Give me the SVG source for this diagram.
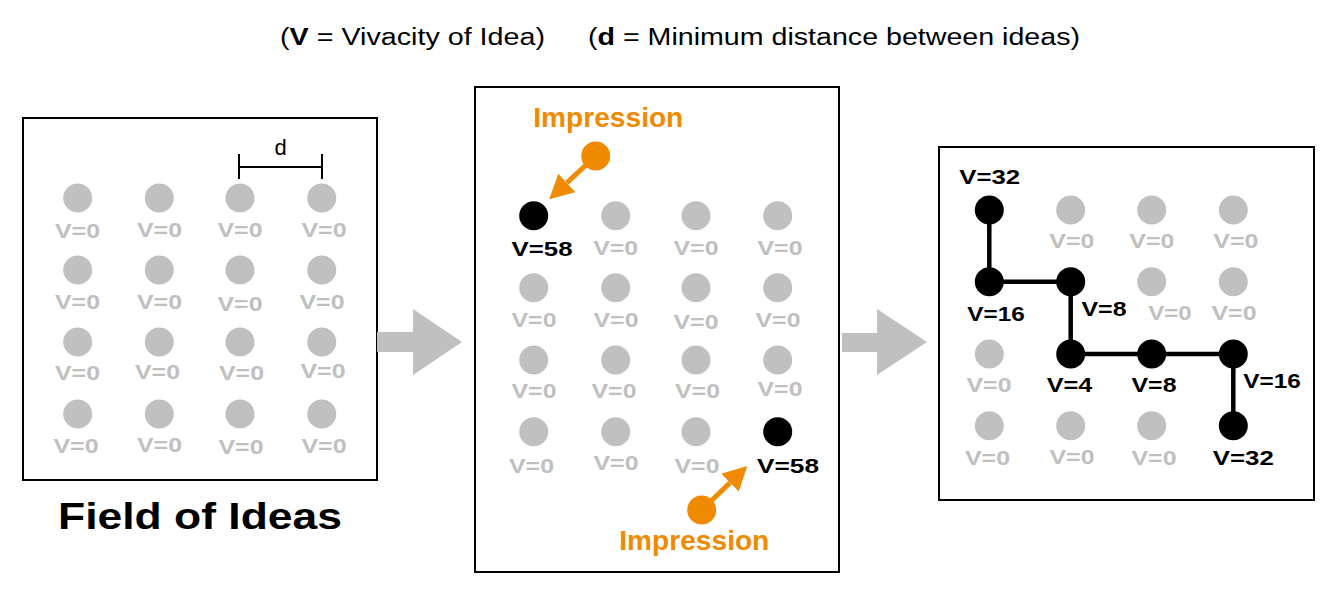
<svg xmlns="http://www.w3.org/2000/svg" width="1334" height="590" viewBox="0 0 1334 590">
<style>
.box{fill:#fff;stroke:#000;stroke-width:2}
.g{fill:#c0c0c0}
.k{fill:#000}
.o{fill:#f08a00}
.t{font-family:"Liberation Sans",Arial,sans-serif;font-weight:bold;font-size:21px;text-anchor:middle}
.tg{fill:#c0c0c0}
.tk{fill:#000}
.imp{font-family:"Liberation Sans",Arial,sans-serif;font-weight:bold;font-size:27px;fill:#f08a00;text-anchor:middle}
.title{font-family:"Liberation Sans",Arial,sans-serif;font-size:23px;fill:#000}
.path{fill:none;stroke:#000;stroke-width:4.5;stroke-linejoin:miter}
.oline{stroke:#f08a00;stroke-width:5;fill:none}
</style>
<defs>
<marker id="oh" viewBox="0 0 24 25" refX="0" refY="12.5" markerWidth="24" markerHeight="25" markerUnits="userSpaceOnUse" orient="auto">
<path d="M0,0 L24,12.5 L0,25 z" fill="#f08a00"/>
</marker>
</defs>
<rect width="1334" height="590" fill="#fff"/>

<g id="title">
<text class="title" x="280" y="45" textLength="265" lengthAdjust="spacingAndGlyphs">(<tspan font-weight="bold">V</tspan> = Vivacity of Idea)</text>
<text class="title" x="588" y="45" textLength="492" lengthAdjust="spacingAndGlyphs">(<tspan font-weight="bold">d</tspan> = Minimum distance between ideas)</text>
</g>

<!-- Panel 1 -->
<g id="panel1">
<rect class="box" x="23" y="118" width="354" height="362"/>
<g id="dmeasure" stroke="#000" stroke-width="2">
<line x1="239" y1="167" x2="322" y2="167"/>
<line x1="239" y1="154" x2="239" y2="179"/>
<line x1="322" y1="154" x2="322" y2="179"/>
</g>
<text x="280.5" y="155" font-family="Liberation Sans,Arial,sans-serif" font-size="22" text-anchor="middle">d</text>
<g id="p1n11"><circle class="g" cx="77.7" cy="198" r="14.5"/><text class="t tg" x="77.5" y="238" textLength="45" lengthAdjust="spacingAndGlyphs">V=0</text></g>
<g id="p1n12"><circle class="g" cx="159.3" cy="198" r="14.5"/><text class="t tg" x="159.5" y="237" textLength="45" lengthAdjust="spacingAndGlyphs">V=0</text></g>
<g id="p1n13"><circle class="g" cx="240" cy="198" r="14.5"/><text class="t tg" x="240" y="237" textLength="45" lengthAdjust="spacingAndGlyphs">V=0</text></g>
<g id="p1n14"><circle class="g" cx="321.7" cy="198" r="14.5"/><text class="t tg" x="324" y="237" textLength="45" lengthAdjust="spacingAndGlyphs">V=0</text></g>
<g id="p1n21"><circle class="g" cx="77.7" cy="270" r="14.5"/><text class="t tg" x="77.5" y="309" textLength="45" lengthAdjust="spacingAndGlyphs">V=0</text></g>
<g id="p1n22"><circle class="g" cx="159.3" cy="270" r="14.5"/><text class="t tg" x="159.5" y="309" textLength="45" lengthAdjust="spacingAndGlyphs">V=0</text></g>
<g id="p1n23"><circle class="g" cx="240" cy="270" r="14.5"/><text class="t tg" x="240" y="311" textLength="45" lengthAdjust="spacingAndGlyphs">V=0</text></g>
<g id="p1n24"><circle class="g" cx="321.7" cy="270" r="14.5"/><text class="t tg" x="322" y="309" textLength="45" lengthAdjust="spacingAndGlyphs">V=0</text></g>
<g id="p1n31"><circle class="g" cx="77.7" cy="342" r="14.5"/><text class="t tg" x="77.5" y="380" textLength="45" lengthAdjust="spacingAndGlyphs">V=0</text></g>
<g id="p1n32"><circle class="g" cx="159.3" cy="342" r="14.5"/><text class="t tg" x="157.5" y="379" textLength="45" lengthAdjust="spacingAndGlyphs">V=0</text></g>
<g id="p1n33"><circle class="g" cx="240" cy="342" r="14.5"/><text class="t tg" x="241.5" y="380" textLength="45" lengthAdjust="spacingAndGlyphs">V=0</text></g>
<g id="p1n34"><circle class="g" cx="321.7" cy="342" r="14.5"/><text class="t tg" x="323" y="378" textLength="45" lengthAdjust="spacingAndGlyphs">V=0</text></g>
<g id="p1n41"><circle class="g" cx="77.7" cy="414" r="14.5"/><text class="t tg" x="76" y="453" textLength="45" lengthAdjust="spacingAndGlyphs">V=0</text></g>
<g id="p1n42"><circle class="g" cx="159.3" cy="414" r="14.5"/><text class="t tg" x="159.5" y="452" textLength="45" lengthAdjust="spacingAndGlyphs">V=0</text></g>
<g id="p1n43"><circle class="g" cx="240" cy="414" r="14.5"/><text class="t tg" x="241" y="454" textLength="45" lengthAdjust="spacingAndGlyphs">V=0</text></g>
<g id="p1n44"><circle class="g" cx="321.7" cy="414" r="14.5"/><text class="t tg" x="324" y="453" textLength="45" lengthAdjust="spacingAndGlyphs">V=0</text></g>
<text x="58" y="529" font-family="Liberation Sans,Arial,sans-serif" font-weight="bold" font-size="36" textLength="284" lengthAdjust="spacingAndGlyphs">Field of Ideas</text>
</g>

<!-- Panel 2 -->
<g id="panel2">
<rect class="box" x="475" y="87" width="364" height="485"/>
<g id="p2n11"><circle class="k" cx="533.7" cy="215.7" r="14.5"/><text class="t tk" x="542" y="256" textLength="61" lengthAdjust="spacingAndGlyphs">V=58</text></g>
<g id="p2n12"><circle class="g" cx="615.7" cy="215.7" r="14.5"/><text class="t tg" x="615.7" y="255" textLength="45" lengthAdjust="spacingAndGlyphs">V=0</text></g>
<g id="p2n13"><circle class="g" cx="696" cy="215.7" r="14.5"/><text class="t tg" x="696" y="255" textLength="45" lengthAdjust="spacingAndGlyphs">V=0</text></g>
<g id="p2n14"><circle class="g" cx="777.7" cy="215.7" r="14.5"/><text class="t tg" x="780" y="255" textLength="45" lengthAdjust="spacingAndGlyphs">V=0</text></g>
<g id="p2n21"><circle class="g" cx="533.7" cy="287.7" r="14.5"/><text class="t tg" x="534" y="327" textLength="45" lengthAdjust="spacingAndGlyphs">V=0</text></g>
<g id="p2n22"><circle class="g" cx="615.7" cy="287.7" r="14.5"/><text class="t tg" x="616" y="327" textLength="45" lengthAdjust="spacingAndGlyphs">V=0</text></g>
<g id="p2n23"><circle class="g" cx="696" cy="287.7" r="14.5"/><text class="t tg" x="696" y="328.5" textLength="45" lengthAdjust="spacingAndGlyphs">V=0</text></g>
<g id="p2n24"><circle class="g" cx="777.7" cy="287.7" r="14.5"/><text class="t tg" x="778" y="327" textLength="45" lengthAdjust="spacingAndGlyphs">V=0</text></g>
<g id="p2n31"><circle class="g" cx="533.7" cy="360" r="14.5"/><text class="t tg" x="534" y="398" textLength="45" lengthAdjust="spacingAndGlyphs">V=0</text></g>
<g id="p2n32"><circle class="g" cx="615.7" cy="360" r="14.5"/><text class="t tg" x="614" y="398" textLength="45" lengthAdjust="spacingAndGlyphs">V=0</text></g>
<g id="p2n33"><circle class="g" cx="696" cy="360" r="14.5"/><text class="t tg" x="697.5" y="398" textLength="45" lengthAdjust="spacingAndGlyphs">V=0</text></g>
<g id="p2n34"><circle class="g" cx="777.7" cy="360" r="14.5"/><text class="t tg" x="780" y="396" textLength="45" lengthAdjust="spacingAndGlyphs">V=0</text></g>
<g id="p2n41"><circle class="g" cx="533.7" cy="431.7" r="14.5"/><text class="t tg" x="531.5" y="473" textLength="45" lengthAdjust="spacingAndGlyphs">V=0</text></g>
<g id="p2n42"><circle class="g" cx="615.7" cy="431.7" r="14.5"/><text class="t tg" x="616" y="470" textLength="45" lengthAdjust="spacingAndGlyphs">V=0</text></g>
<g id="p2n43"><circle class="g" cx="696" cy="431.7" r="14.5"/><text class="t tg" x="697" y="473" textLength="45" lengthAdjust="spacingAndGlyphs">V=0</text></g>
<g id="p2n44"><circle class="k" cx="777.7" cy="431.7" r="14.5"/><text class="t tk" x="788" y="473" textLength="62" lengthAdjust="spacingAndGlyphs">V=58</text></g>
<g id="impression1"><circle class="o" cx="595.7" cy="156" r="14.5"/><text class="imp" x="608.3" y="126.5" textLength="150" lengthAdjust="spacingAndGlyphs">Impression</text></g>
<g id="impression2"><circle class="o" cx="701.7" cy="510" r="14.5"/><text class="imp" x="694.3" y="550" textLength="150" lengthAdjust="spacingAndGlyphs">Impression</text></g>
</g>

<!-- Panel 3 -->
<g id="panel3">
<rect class="box" x="939" y="147" width="375" height="353"/>
</g>

<g id="connectors">
<polygon class="g" points="377,332 413,332 413,309 462,342 413,375 413,352 377,352"/>
<polygon class="g" points="842,333 877,333 877,309 927,342 877,375 877,352 842,352"/>
<line class="oline" x1="595.7" y1="156" x2="566.8" y2="182.9" marker-end="url(#oh)"/>
<line class="oline" x1="701.7" y1="510" x2="730" y2="482.7" marker-end="url(#oh)"/>
<polyline class="path" points="989.3,210 989.3,281.7 1070.7,281.7 1070.7,354 1233.3,354 1233.3,425.7"/>
</g>

<g id="panel3-nodes">
<g id="p3n11"><circle class="k" cx="989.3" cy="210" r="14.5"/><text class="t tk" x="989.7" y="184.3" textLength="61" lengthAdjust="spacingAndGlyphs">V=32</text></g>
<g id="p3n12"><circle class="g" cx="1070.7" cy="210" r="14.5"/><text class="t tg" x="1071.8" y="248" textLength="45" lengthAdjust="spacingAndGlyphs">V=0</text></g>
<g id="p3n13"><circle class="g" cx="1151.7" cy="210" r="14.5"/><text class="t tg" x="1151.8" y="248" textLength="45" lengthAdjust="spacingAndGlyphs">V=0</text></g>
<g id="p3n14"><circle class="g" cx="1233.3" cy="210" r="14.5"/><text class="t tg" x="1235.8" y="248" textLength="45" lengthAdjust="spacingAndGlyphs">V=0</text></g>
<g id="p3n21"><circle class="k" cx="989.3" cy="281.7" r="14.5"/><text class="t tk" x="996" y="321" textLength="57.5" lengthAdjust="spacingAndGlyphs">V=16</text></g>
<g id="p3n22"><circle class="k" cx="1070.7" cy="281.7" r="14.5"/><text class="t tk" x="1104" y="316" textLength="45" lengthAdjust="spacingAndGlyphs">V=8</text></g>
<g id="p3n23"><circle class="g" cx="1151.7" cy="281.7" r="14.5"/><text class="t tg" x="1170" y="320" textLength="43.5" lengthAdjust="spacingAndGlyphs">V=0</text></g>
<g id="p3n24"><circle class="g" cx="1233.3" cy="281.7" r="14.5"/><text class="t tg" x="1234" y="320" textLength="45" lengthAdjust="spacingAndGlyphs">V=0</text></g>
<g id="p3n31"><circle class="g" cx="989.3" cy="354" r="14.5"/><text class="t tg" x="989" y="392" textLength="45" lengthAdjust="spacingAndGlyphs">V=0</text></g>
<g id="p3n32"><circle class="k" cx="1070.7" cy="354" r="14.5"/><text class="t tk" x="1069.5" y="392.3" textLength="45.6" lengthAdjust="spacingAndGlyphs">V=4</text></g>
<g id="p3n33"><circle class="k" cx="1151.7" cy="354" r="14.5"/><text class="t tk" x="1154" y="392.3" textLength="45" lengthAdjust="spacingAndGlyphs">V=8</text></g>
<g id="p3n34"><circle class="k" cx="1233.3" cy="354" r="14.5"/><text class="t tk" x="1272" y="388.3" textLength="57.5" lengthAdjust="spacingAndGlyphs">V=16</text></g>
<g id="p3n41"><circle class="g" cx="989.3" cy="425.7" r="14.5"/><text class="t tg" x="987.5" y="465" textLength="45" lengthAdjust="spacingAndGlyphs">V=0</text></g>
<g id="p3n42"><circle class="g" cx="1070.7" cy="425.7" r="14.5"/><text class="t tg" x="1072" y="463.5" textLength="45" lengthAdjust="spacingAndGlyphs">V=0</text></g>
<g id="p3n43"><circle class="g" cx="1151.7" cy="425.7" r="14.5"/><text class="t tg" x="1154" y="465" textLength="45" lengthAdjust="spacingAndGlyphs">V=0</text></g>
<g id="p3n44"><circle class="k" cx="1233.3" cy="425.7" r="14.5"/><text class="t tk" x="1243.3" y="465" textLength="61" lengthAdjust="spacingAndGlyphs">V=32</text></g>
</g>
</svg>
